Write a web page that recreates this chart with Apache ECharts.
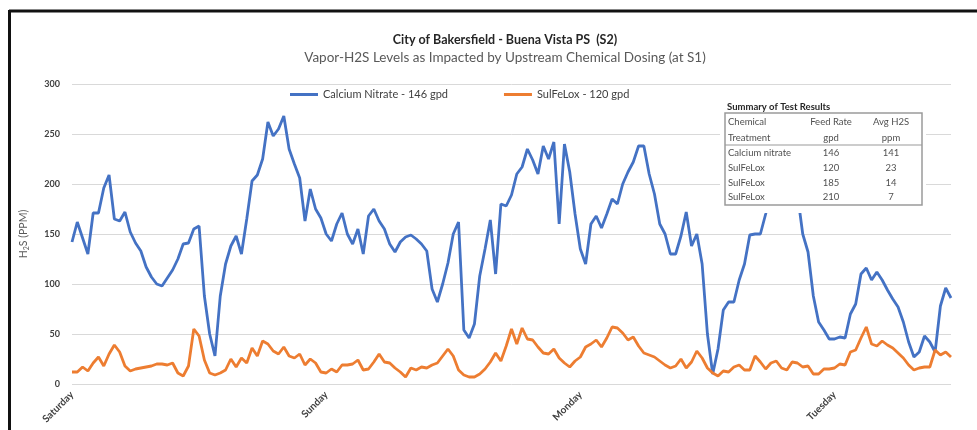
<!DOCTYPE html>
<html>
<head>
<meta charset="utf-8">
<title>Buena Vista PS (S2)</title>
<script src="https://cdn.jsdelivr.net/npm/echarts@6/dist/echarts.min.js"></script>
<style>
  html, body { margin: 0; padding: 0; background: #fff; }
  #main { width: 977px; height: 430px; }
</style>
</head>
<body>
<div id="main"></div>
<script>
  // half-hour readings, Saturday 00:00 onward
  var dayNames = ['Saturday', 'Sunday', 'Monday', 'Tuesday'];
  var stepsPerDay = 48;

  var calciumNitrate = [
    142, 162, 146, 130, 171, 171, 196, 209, 165, 163,
    172, 152, 141, 133, 117, 107, 100, 98, 106, 114,
    125, 140, 141, 155, 158, 88, 50, 28, 88, 120,
    138, 148, 130, 165, 203, 209, 225, 262, 248, 255,
    268, 235, 220, 206, 163, 195, 175, 166, 150, 143,
    160, 171, 150, 140, 155, 130, 168, 175, 163, 155,
    140, 132, 142, 147, 149, 145, 140, 133, 95, 82,
    100, 121, 150, 162, 54, 46, 60, 108, 135, 164,
    110, 180, 178, 189, 210, 217, 235, 224, 210, 238,
    225, 242, 160, 240, 212, 170, 135, 120, 160, 168,
    156, 170, 185, 180, 200, 212, 222, 238, 238, 210,
    190, 160, 150, 130, 130, 148, 172, 138, 150, 120,
    50, 10, 35, 74, 82, 82, 104, 120, 149, 150,
    150, 170, 195, 215, 228, 225, 212, 190, 150, 132,
    88, 62, 54, 45, 45, 47, 46, 70, 80, 110,
    116, 104, 112, 104, 94, 85, 77, 62, 42, 27,
    32, 48, 42, 32, 78, 96, 86
  ];

  var sulFeLox = [
    12, 12, 17, 13, 21, 27, 18, 30, 39, 32,
    18, 13, 15, 16, 17, 18, 20, 20, 19, 21,
    11, 8, 18, 55, 48, 24, 11, 9, 11, 14,
    25, 17, 26, 21, 36, 28, 43, 40, 33, 30,
    37, 28, 26, 30, 19, 25, 21, 12, 11, 15,
    12, 19, 19, 20, 24, 14, 15, 22, 30, 22,
    21, 16, 12, 7, 16, 14, 17, 16, 19, 21,
    28, 35, 28, 14, 9, 7, 7, 10, 15, 22,
    31, 23, 38, 55, 40, 56, 45, 44, 37, 31,
    30, 35, 26, 21, 17, 23, 27, 37, 40, 44,
    37, 46, 57, 56, 51, 44, 47, 38, 31, 29,
    27, 23, 19, 16, 18, 25, 16, 22, 33, 26,
    16, 11, 8, 13, 12, 17, 19, 14, 14, 28,
    22, 15, 21, 23, 16, 14, 22, 21, 17, 18,
    10, 10, 15, 15, 16, 20, 19, 32, 34, 46,
    57, 40, 38, 43, 39, 36, 31, 26, 19, 14,
    16, 17, 17, 34, 29, 32, 27
  ];

  var yTicks = [0, 50, 100, 150, 200, 250, 300];

  var tableHead1 = ['Chemical', 'Feed Rate', 'Avg H2S'];
  var tableHead2 = ['Treatment', 'gpd', 'ppm'];
  var tableChem = ['Calcium nitrate', 'SulFeLox', 'SulFeLox', 'SulFeLox'];
  var tableFeed = [146, 120, 185, 210];
  var tableAvg = [141, 23, 14, 7];

  var times = [];
  for (var i = 0; i < calciumNitrate.length; i++) {
    var d = Math.floor(i / stepsPerDay);
    var m = (i % stepsPerDay) * 30;
    times.push(dayNames[d] + ' ' + Math.floor(m / 60) + ':' + (m % 60 === 0 ? '00' : '30'));
  }

  var font = 'Lato, "Open Sans", sans-serif';
  var txt = '#404040';

  var chart = echarts.init(document.getElementById('main'));

  // summary table drawn on top of the plot
  var colX = [728, 831, 891];
  var rowY = [122, 138, 153, 168, 183, 197];
  var tableEls = [
    {type: 'rect', shape: {x: 720, y: 96, width: 206, height: 117}, style: {fill: '#fff'}, z: 100},
    {type: 'text', x: 727, y: 107, style: {text: 'Summary of Test Results', font: 'bold 9.5px ' + font, fill: '#262626', verticalAlign: 'middle'}, z: 101},
    {type: 'rect', shape: {x: 725, y: 113, width: 197, height: 92}, style: {fill: 'none', stroke: '#9a9a9a', lineWidth: 1.5}, z: 101},
    {type: 'line', shape: {x1: 725, y1: 145, x2: 922, y2: 145}, style: {stroke: '#9a9a9a', lineWidth: 1.2}, z: 101}
  ];
  function cell(x, y, s, align) {
    tableEls.push({type: 'text', x: x, y: y, z: 101,
      style: {text: String(s), font: '9.5px ' + font, fill: '#505050', align: align, verticalAlign: 'middle'}});
  }
  var heads = [tableHead1, tableHead2];
  for (var r = 0; r < 2; r++) {
    cell(colX[0], rowY[r], heads[r][0], 'left');
    cell(colX[1], rowY[r], heads[r][1], 'center');
    cell(colX[2], rowY[r], heads[r][2], 'center');
  }
  for (var k = 0; k < tableChem.length; k++) {
    cell(colX[0], rowY[k + 2], tableChem[k], 'left');
    cell(colX[1], rowY[k + 2], tableFeed[k], 'center');
    cell(colX[2], rowY[k + 2], tableAvg[k], 'center');
  }

  var option = {
    backgroundColor: '#fff',
    animation: false,
    textStyle: {fontFamily: font},
    title: {
      text: 'City of Bakersfield - Buena Vista PS  (S2)',
      subtext: 'Vapor-H2S Levels as Impacted by Upstream Chemical Dosing (at S1)',
      left: 500,
      textAlign: 'center',
      top: 28,
      itemGap: 5,
      textStyle: {fontSize: 12.5, fontWeight: 'bold', color: '#262626', fontFamily: font},
      subtextStyle: {fontSize: 13.5, color: '#595959', fontFamily: font}
    },
    legend: {
      left: 285,
      top: 84,
      icon: 'rect',
      itemWidth: 28,
      itemHeight: 3,
      itemGap: 56,
      textStyle: {fontSize: 11, color: txt, fontFamily: font},
      data: ['Calcium Nitrate - 146 gpd', 'SulFeLox - 120 gpd']
    },
    grid: {left: 72, right: 26, top: 84, bottom: 46},
    xAxis: {
      type: 'category',
      boundaryGap: false,
      data: times,
      axisLine: {show: false},
      axisTick: {show: false},
      axisLabel: {
        interval: function (idx) { return idx % stepsPerDay === 0; },
        formatter: function (v) { return v.split(' ')[0]; },
        rotate: 45,
        margin: 9,
        fontSize: 10,
        fontWeight: 'bold',
        color: txt
      },
      splitLine: {show: false}
    },
    yAxis: {
      type: 'value',
      min: yTicks[0],
      max: yTicks[yTicks.length - 1],
      interval: 50,
      name: 'H{s|2}S (PPM)',
      nameLocation: 'middle',
      nameGap: 42,
      nameRotate: 90,
      nameTextStyle: {
        fontSize: 10.5, color: '#595959',
        rich: {s: {fontSize: 7, color: '#595959', verticalAlign: 'bottom', padding: [5, 0, 0, 0]}}
      },
      axisLine: {show: false},
      axisTick: {show: false},
      axisLabel: {fontSize: 9, fontWeight: 'bold', color: txt, margin: 12},
      splitLine: {lineStyle: {color: '#d9d9d9', width: 1}}
    },
    graphic: [
      {type: 'line', shape: {x1: 9, y1: 11, x2: 977, y2: 11}, style: {stroke: '#111', lineWidth: 3}, z: 200},
      {type: 'line', shape: {x1: 9.5, y1: 10, x2: 9.5, y2: 430}, style: {stroke: '#111', lineWidth: 3}, z: 200}
    ].concat(tableEls),
    series: [
      {
        name: 'Calcium Nitrate - 146 gpd',
        type: 'line',
        data: calciumNitrate,
        showSymbol: false,
        symbol: 'none',
        lineStyle: {color: '#4472C4', width: 2.8},
        itemStyle: {color: '#4472C4'}
      },
      {
        name: 'SulFeLox - 120 gpd',
        type: 'line',
        data: sulFeLox,
        showSymbol: false,
        symbol: 'none',
        lineStyle: {color: '#ED7D31', width: 2.8},
        itemStyle: {color: '#ED7D31'}
      }
    ]
  };

  option && chart.setOption(option);
</script>
</body>
</html>
